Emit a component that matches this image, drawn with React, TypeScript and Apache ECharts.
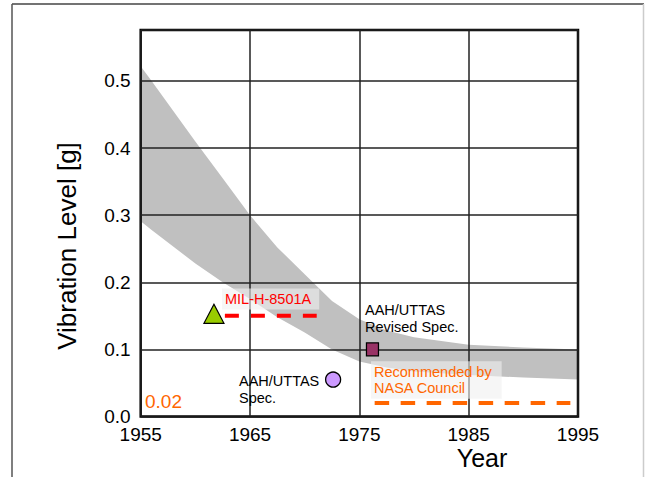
import React, { useEffect, useRef } from "react";
import * as echarts from "echarts";

// ---- data ----
const BASE_YEAR = 1955;
const xTickStep = 10;
const xRangeYears = [1955, 1995];
const yRange = [0, 0.576];
const yTickStep = 0.1;

const bandYears = [1955, 1956, 1960, 1962.5, 1965, 1967.5, 1970, 1972.5, 1975, 1977.5, 1980, 1985, 1990, 1995];
const bandUpper = [0.522, 0.5, 0.41, 0.355, 0.3, 0.252, 0.212, 0.172, 0.145, 0.128, 0.118, 0.107, 0.103, 0.1];
const bandLower = [0.291, 0.278, 0.228, 0.2, 0.175, 0.148, 0.125, 0.1, 0.082, 0.073, 0.067, 0.062, 0.058, 0.055];

const milPoint = [1961.7, 0.153];
const aahSpecPoint = [1972.6, 0.055];
const aahRevisedPoint = [1976.2, 0.1];

const milLineYears = [1962.7, 1971.1];
const milLineLevel = 0.15;
const nasaLineYears = [1976.4, 1994.3];
const nasaLineLevel = 0.02;
const nasaValueLabel = "0.02";

const FONT = "'Liberation Sans', Arial, Helvetica, sans-serif";
const toX = (y: number) => y - BASE_YEAR;

export default function App() {
  const ref = useRef<HTMLDivElement>(null);
  useEffect(() => {
    if (!ref.current) return;
    const chart = echarts.init(ref.current, null, { renderer: "svg" });
    const option: any = {
      animation: false,
      backgroundColor: "#fff",
      textStyle: { fontFamily: FONT },
      grid: {
        left: 140.7,
        right: 67,
        top: 30,
        bottom: 60.5,
        show: true,
        borderColor: "#000",
        borderWidth: 2.5,
        backgroundColor: "transparent",
      },
      xAxis: {
        type: "value",
        min: toX(xRangeYears[0]),
        max: toX(xRangeYears[1]),
        interval: xTickStep,
        axisLine: { show: false },
        axisTick: { show: false },
        splitLine: { show: true, lineStyle: { color: "#222", width: 1.5 } },
        axisLabel: {
          fontSize: 19,
          color: "#000",
          fontFamily: FONT,
          margin: 8,
          formatter: (v: number) => String(v + BASE_YEAR),
        },
      },
      yAxis: {
        type: "value",
        min: yRange[0],
        max: yRange[1],
        interval: yTickStep,
        axisLine: { show: false },
        axisTick: { show: false },
        splitLine: { show: true, lineStyle: { color: "#222", width: 1.5 } },
        axisLabel: {
          fontSize: 19,
          color: "#000",
          fontFamily: FONT,
          margin: 10,
          formatter: (v: number) =>
            Math.abs(v * 10 - Math.round(v * 10)) < 1e-6 ? v.toFixed(1) : "",
        },
      },
      series: [
        {
          type: "custom",
          z: -1,
          silent: true,
          data: [[0, 0]],
          renderItem: (_p: any, api: any) => {
            const pts: number[][] = [];
            for (let i = 0; i < bandYears.length; i++)
              pts.push(api.coord([toX(bandYears[i]), bandUpper[i]]));
            for (let i = bandYears.length - 1; i >= 0; i--)
              pts.push(api.coord([toX(bandYears[i]), bandLower[i]]));
            return {
              type: "polygon",
              shape: { points: pts, smooth: 0 },
              style: { fill: "#c0c0c0" },
            };
          },
        },
        {
          type: "line",
          symbol: "none",
          data: milLineYears.map((y) => [toX(y), milLineLevel]),
          lineStyle: { color: "#ff0000", width: 4, type: [14, 12] },
        },
        {
          type: "line",
          symbol: "none",
          data: nasaLineYears.map((y) => [toX(y), nasaLineLevel]),
          lineStyle: { color: "#ff6600", width: 4, type: [14.5, 11.5] },
        },
        {
          type: "scatter",
          symbol: "triangle",
          symbolSize: [20, 19],
          data: [[toX(milPoint[0]), milPoint[1]]],
          itemStyle: { color: "#99cc00", borderColor: "#000", borderWidth: 1.2, opacity: 1 },
        },
        {
          type: "scatter",
          symbol: "circle",
          symbolSize: 15,
          data: [[toX(aahSpecPoint[0]), aahSpecPoint[1]]],
          itemStyle: { color: "#cc99ff", borderColor: "#000", borderWidth: 1.3, opacity: 1 },
        },
        {
          type: "scatter",
          symbol: "rect",
          symbolSize: [12, 13],
          data: [[toX(aahRevisedPoint[0]), aahRevisedPoint[1]]],
          itemStyle: { color: "#993366", borderColor: "#000", borderWidth: 1.3, opacity: 1 },
        },
      ],
      graphic: [
        { type: "line", z: 100, shape: { x1: 12, y1: 4, x2: 644, y2: 4 }, style: { stroke: "#444", lineWidth: 1.5 } },
        { type: "line", z: 100, shape: { x1: 12, y1: 4, x2: 12, y2: 477 }, style: { stroke: "#555", lineWidth: 1.5 } },
        { type: "line", z: 100, shape: { x1: 643.5, y1: 4, x2: 643.5, y2: 477 }, style: { stroke: "#ccc", lineWidth: 1.5 } },
        {
          type: "text", z: 100, x: 67, y: 246, rotation: Math.PI / 2,
          style: { text: "Vibration Level [g]", fill: "#000", fontSize: 26, fontFamily: FONT, align: "center", verticalAlign: "middle" },
        },
        {
          type: "text", z: 100, x: 482, y: 458,
          style: { text: "Year", fill: "#000", fontSize: 25, fontFamily: FONT, align: "center", verticalAlign: "middle" },
        },
        {
          type: "text", z: 100, x: 222, y: 299,
          style: {
            text: "MIL-H-8501A", fill: "#ff0000", fontSize: 14.5, fontFamily: FONT, align: "left", verticalAlign: "middle",
            backgroundColor: "rgba(240,240,240,0.6)", padding: [3, 8, 3, 3],
          },
        },
        {
          type: "text", z: 100, x: 239, y: 389.5,
          style: { text: "AAH/UTTAS\nSpec.", fill: "#000", fontSize: 14.5, lineHeight: 17, fontFamily: FONT, align: "left", verticalAlign: "middle" },
        },
        {
          type: "text", z: 100, x: 365, y: 318.3,
          style: { text: "AAH/UTTAS\nRevised Spec.", fill: "#000", fontSize: 14.5, lineHeight: 16.7, fontFamily: FONT, align: "left", verticalAlign: "middle" },
        },
        {
          type: "text", z: 100, x: 371, y: 380,
          style: {
            text: "Recommended by\nNASA Council", fill: "#ff6600", fontSize: 14.5, lineHeight: 16.7, fontFamily: FONT, align: "left", verticalAlign: "middle",
            backgroundColor: "rgba(240,240,240,0.6)", padding: [3, 10, 1, 3],
          },
        },
        {
          type: "text", z: 100, x: 145, y: 401.7,
          style: { text: nasaValueLabel, fill: "#ff6600", fontSize: 19, fontFamily: FONT, align: "left", verticalAlign: "middle" },
        },
      ],
    };
    chart.setOption(option);
    return () => chart.dispose();
  }, []);
  return (
    <div
      ref={ref}
      style={{ position: "absolute", left: 0, top: 0, width: 645, height: 477 }}
    />
  );
}
